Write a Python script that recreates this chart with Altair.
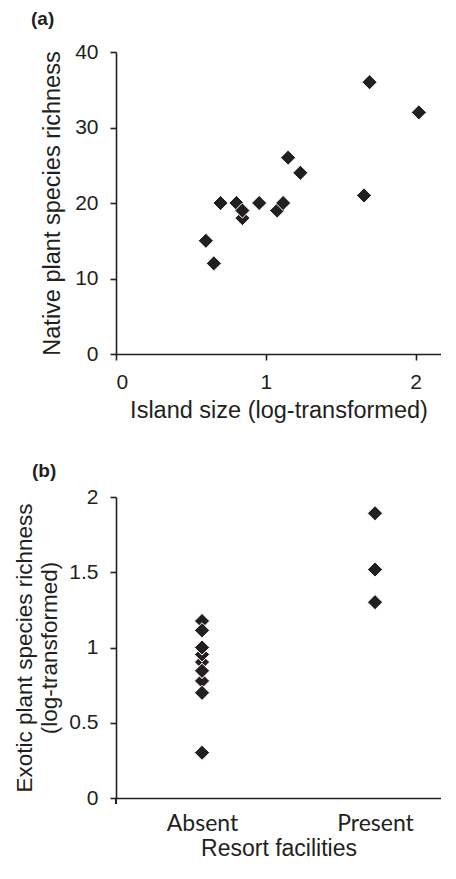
import altair as alt
import pandas as pd

# Panel (a): island size vs native richness
island_size = [0.600, 0.653, 0.698, 0.804, 0.844, 0.844, 0.956, 1.076, 1.116, 1.149, 1.231, 1.656, 1.693, 2.022]
native_richness = [15, 12, 20, 20, 18, 19, 20, 19, 20, 26, 24, 21, 36, 32]

# Panel (b): resort facilities vs exotic richness (log)
resort = ["Absent", "Absent", "Absent", "Absent", "Absent", "Absent", "Absent", "Absent",
          "Absent", "Absent", "Absent", "Present", "Present", "Present"]
exotic_log = [0.903, 0.778, 1.176, 0.954, 0.699, 0.845, 0.845, 1.114, 1.000, 1.000, 0.301,
              1.892, 1.518, 1.301]

categories = ["Absent", "Present"]

df_a = pd.DataFrame({"size": island_size, "native": native_richness})
df_b = pd.DataFrame({"resort": resort, "exotic": exotic_log})

INK = "#231f20"
SANS = "Liberation Sans"
MSIZE = 230

panel_a = alt.Chart(df_a).mark_point(
    shape="diamond", filled=True, fill=INK, stroke="white", strokeWidth=1, size=MSIZE, opacity=1
).encode(
    x=alt.X("size:Q",
            scale=alt.Scale(domain=[0, 2.17], nice=False, zero=True),
            axis=alt.Axis(title="Island size (log-transformed)", values=[0, 1, 2],
                          format="d", grid=False, tickSize=6, labelPadding=11,
                          titlePadding=6, titleFontSize=23.5)),
    y=alt.Y("native:Q",
            scale=alt.Scale(domain=[0, 40], nice=False),
            axis=alt.Axis(title="Native plant species richness", values=[0, 10, 20, 30, 40],
                          grid=False, tickSize=6, labelPadding=12, titlePadding=10,
                          titleFontSize=23.5)),
).properties(
    width=325, height=302,
    title=alt.TitleParams("(a)", anchor="start", frame="group", dx=-85, offset=12,
                          fontSize=19, fontWeight="bold", font=SANS, color=INK)
)

origin_tick = alt.Chart(df_b).mark_rule(color=INK, strokeWidth=1.6).encode(
    x=alt.value(0), y=alt.value(301), y2=alt.value(307)
)

points_b = alt.Chart(df_b).mark_point(
    shape="diamond", filled=True, fill=INK, stroke="white", strokeWidth=1, size=MSIZE, opacity=1
).encode(
    x=alt.X("resort:N",
            scale=alt.Scale(type="point", domain=categories, padding=0.4393, align=0.566),
            axis=alt.Axis(title="Resort facilities", labelAngle=0, ticks=False,
                          labelFont="Lato", labelFontSize=23, labelPadding=14,
                          titlePadding=2)),
    y=alt.Y("exotic:Q",
            scale=alt.Scale(domain=[0, 2], nice=False),
            axis=alt.Axis(title=["Exotic plant species richness", "(log-transformed)"],
                          values=[0, 0.5, 1, 1.5, 2], format="~g", grid=False, tickSize=6,
                          labelPadding=12, titlePadding=7, titleLineHeight=25,
                          titleFontSize=22.5)),
)

panel_b = alt.layer(points_b, origin_tick).properties(
    width=325, height=301,
    title=alt.TitleParams("(b)", anchor="start", frame="group", dx=-84, offset=5,
                          fontSize=19, fontWeight="bold", font=SANS, color=INK)
)

chart = alt.vconcat(panel_a, panel_b, spacing=40).properties(
    background="white",
    padding={"left": 5, "top": 2, "right": 0, "bottom": 0}
).configure_view(
    stroke=None
).configure_axis(
    domainColor=INK, domainWidth=1.6, tickColor=INK, tickWidth=1.6,
    labelColor=INK, titleColor=INK, labelFont=SANS, titleFont=SANS,
    labelFontSize=21, titleFontSize=23, titleFontWeight="normal"
)

chart.save("out.html", embed_options={"renderer": "svg", "actions": False})
